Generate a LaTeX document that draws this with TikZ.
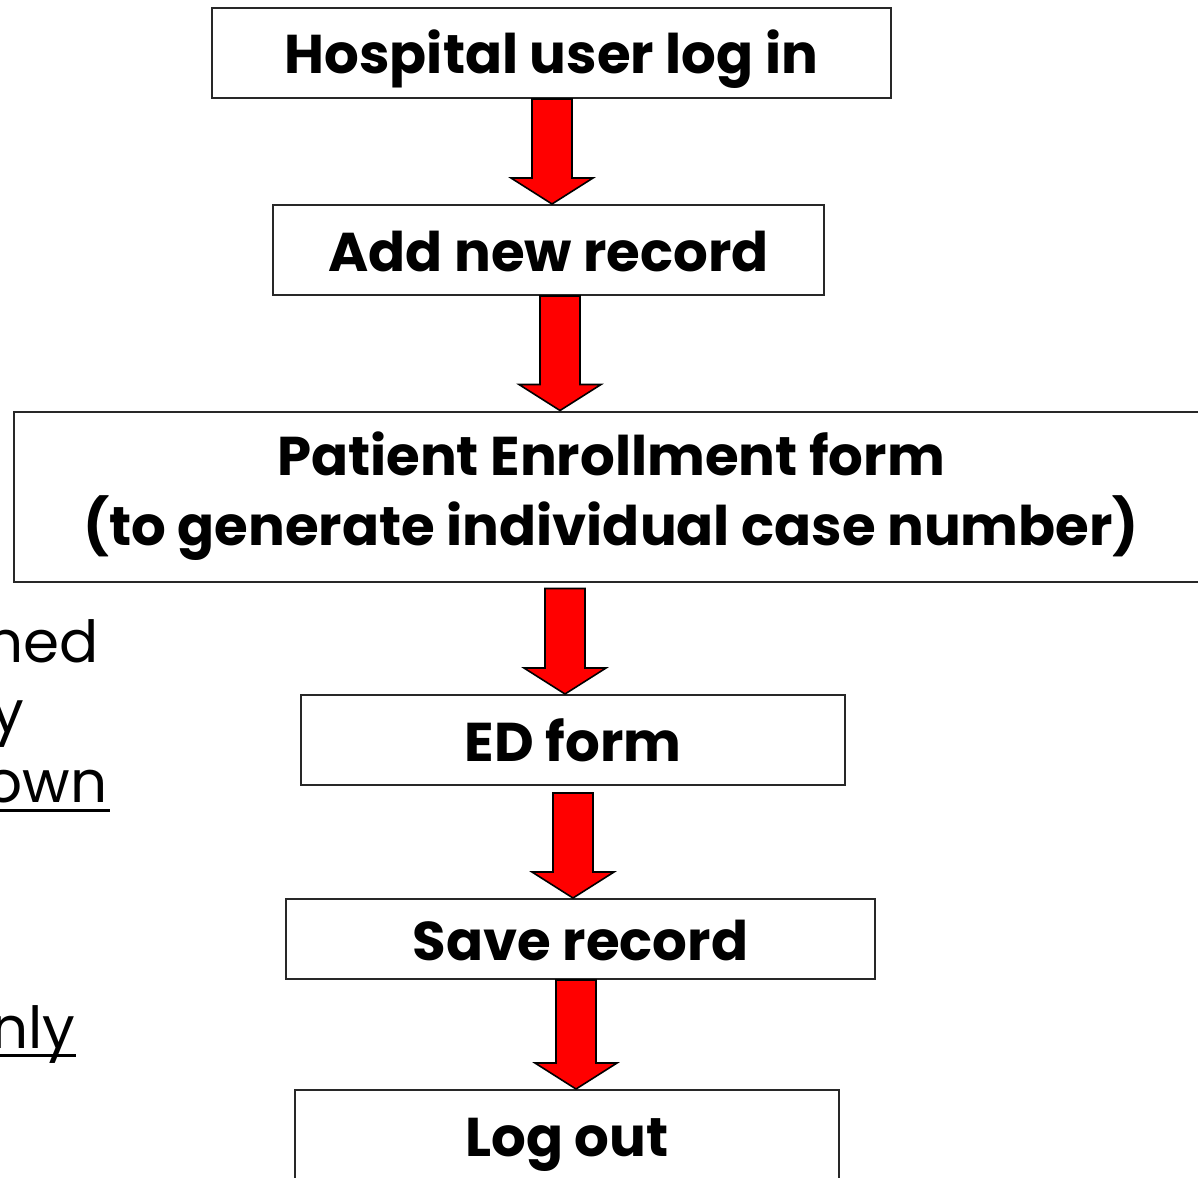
\documentclass[tikz,border=0pt]{standalone}
\usepackage{fontspec}
\setmainfont{Poppins}
\usepackage{xcolor}
\usetikzlibrary{calc}
\definecolor{flowred}{RGB}{255,0,0}
\definecolor{boxline}{RGB}{40,40,40}

% block arrow from the top point #1 down to the tip #2
\newcommand{\flowarrow}[2]{%
  \draw[line width=0.8pt, fill=flowred, line join=miter]
    ($(#1)+(-10pt,0)$) -- ($(#2)+(-10pt,13pt)$) -- ($(#2)+(-20.5pt,13pt)$) -- (#2)
    -- ($(#2)+(20.5pt,13pt)$) -- ($(#2)+(10pt,13pt)$) -- ($(#1)+(10pt,0)$) -- cycle;}

\begin{document}
\begin{tikzpicture}[x=0.5pt, y=-0.5pt,
  stepbox/.style={draw=boxline, line width=1pt, inner sep=0pt, align=center,
    font=\fontsize{27.3}{35}\selectfont\bfseries},
  onebox/.style={stepbox, minimum height=45pt, text height=21pt, text depth=0pt},
  sidetext/.style={anchor=base east, inner sep=0pt, font=\fontsize{29}{35}\selectfont}]
  \useasboundingbox (0,0) rectangle (1198,1177);

  \node[onebox, minimum width=339.5pt] (login) at (551.5,53) {Hospital user log in};
  \node[onebox, minimum width=275.5pt] (addrec) at (548.5,250) {Add new record};
  \node[stepbox, minimum width=597pt, minimum height=85pt] (enrol) at (611,496.5) {Patient Enrollment form\\(to generate individual case number)};
  \node[onebox, minimum width=272pt] (edform) at (573,740) {ED form};
  \node[onebox, minimum width=294.5pt, minimum height=40pt] (save) at (580.5,939) {Save record};
  \node[onebox, minimum width=272pt] (logout) at (567,1135) {Log out};

  % text cut off at the left edge
  \node[sidetext] (ned) at (99,662) {ned};
  \node[sidetext] (by) at (25,732) {y};
  \node[sidetext] (own) at (108,802) {own};
  \node[sidetext] (nly) at (76,1048) {nly};
  \draw[line width=1.5pt] ([yshift=-4pt]own.base west) -- ([xshift=1pt,yshift=-4pt]own.base east);
  \draw[line width=1.5pt] ([yshift=-3.5pt]nly.base west) -- ([yshift=-3.5pt]nly.base east);

  \coordinate (c1) at (552,0);
  \coordinate (c2) at (560,0);
  \coordinate (c3) at (565,0);
  \coordinate (c4) at (573,0);
  \coordinate (c5) at (576,0);
  \coordinate (t3) at ([yshift=-3pt]enrol.south -| c3);
  \coordinate (t4) at ([yshift=-3.5pt]edform.south -| c4);
  \flowarrow{login.south -| c1}{addrec.north -| c1}
  \flowarrow{addrec.south -| c2}{enrol.north -| c2}
  \flowarrow{t3}{edform.north -| c3}
  \flowarrow{t4}{save.north -| c4}
  \flowarrow{save.south -| c5}{logout.north -| c5}
\end{tikzpicture}
\end{document}
